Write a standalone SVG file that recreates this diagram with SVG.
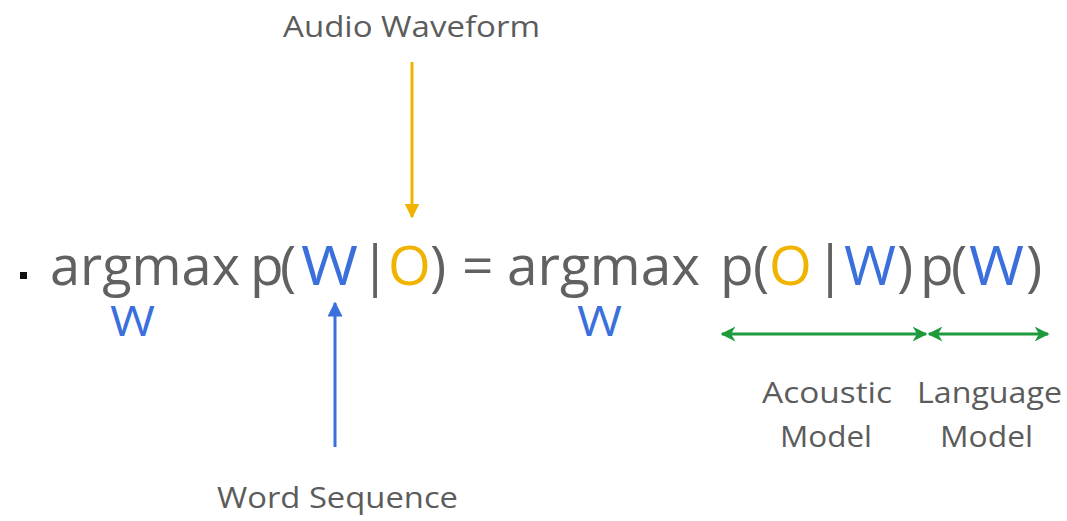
<svg xmlns="http://www.w3.org/2000/svg" width="1067" height="521" viewBox="0 0 1067 521">
<style>
text{font-family:"Open Sans","Noto Sans",sans-serif;}
.g{fill:#616161;}
.b{fill:#3a6fdc;}
.y{fill:#f0b400;}
.lbl{font-size:30px;fill:#5c5c5c;}
.eq{font-size:55px;}
.sub{font-size:42px;fill:#3a6fdc;}
</style>
<defs>
<marker id="ay" viewBox="0 0 10 10" refX="9" refY="5" markerWidth="5" markerHeight="5" orient="auto"><path d="M0,0 L10,5 L0,10 z" fill="#f0b400"/></marker>
<marker id="ab" viewBox="0 0 10 10" refX="9" refY="5" markerWidth="5" markerHeight="5" orient="auto"><path d="M0,0 L10,5 L0,10 z" fill="#3a6fdc"/></marker>
<marker id="ag" viewBox="0 0 10 10" refX="9" refY="5" markerWidth="5" markerHeight="5" orient="auto-start-reverse"><path d="M0,0 L10,5 L0,10 L3,5 z" fill="#1e9a3c"/></marker>
</defs>
<rect width="1067" height="521" fill="#fff"/>
<g id="formula">
<rect x="20" y="272" width="7" height="7" fill="#111"/>
<text class="eq g" x="50" y="285" textLength="190" lengthAdjust="spacingAndGlyphs">argmax</text>
<text class="eq g" x="250" y="285">p</text>
<text class="eq g" x="280" y="285">(</text>
<text class="eq b" x="301" y="285" textLength="57" lengthAdjust="spacingAndGlyphs">W</text>
<text class="eq g" x="360" y="285">|</text>
<text class="eq y" x="388" y="285">O</text>
<text class="eq g" x="430" y="285">)</text>
<text class="eq g" x="462" y="285">=</text>
<text class="eq g" x="507" y="285" textLength="193" lengthAdjust="spacingAndGlyphs">argmax</text>
<text class="eq g" x="720" y="285">p</text>
<text class="eq g" x="753" y="285">(</text>
<text class="eq y" x="769" y="285">O</text>
<text class="eq g" x="815" y="285">|</text>
<text class="eq b" x="844" y="285" textLength="52" lengthAdjust="spacingAndGlyphs">W</text>
<text class="eq g" x="897" y="285">)</text>
<text class="eq g" x="920" y="285">p</text>
<text class="eq g" x="951" y="285">(</text>
<text class="eq b" x="969" y="285" textLength="55" lengthAdjust="spacingAndGlyphs">W</text>
<text class="eq g" x="1026" y="285">)</text>
<text class="sub" x="110" y="336" textLength="45" lengthAdjust="spacingAndGlyphs">W</text>
<text class="sub" x="577" y="336" textLength="45" lengthAdjust="spacingAndGlyphs">W</text>
</g>
<g id="audio"><text class="lbl" x="283" y="37" textLength="257" lengthAdjust="spacingAndGlyphs">Audio Waveform</text></g>
<g id="word"><text class="lbl" x="217" y="508" textLength="241" lengthAdjust="spacingAndGlyphs">Word Sequence</text></g>
<g id="acoustic"><text class="lbl" x="762" y="403" textLength="130" lengthAdjust="spacingAndGlyphs">Acoustic</text><text class="lbl" x="780" y="447" textLength="92" lengthAdjust="spacingAndGlyphs">Model</text></g>
<g id="language"><text class="lbl" x="917" y="403" textLength="145" lengthAdjust="spacingAndGlyphs">Language</text><text class="lbl" x="940" y="447" textLength="93" lengthAdjust="spacingAndGlyphs">Model</text></g>
<g id="connectors" fill="none" stroke-width="3">
<line x1="412" y1="62" x2="412" y2="217" stroke="#f0b400" marker-end="url(#ay)"/>
<line x1="335" y1="447" x2="335" y2="303" stroke="#3a6fdc" marker-end="url(#ab)"/>
<line x1="722" y1="334" x2="926" y2="334" stroke="#1e9a3c" marker-start="url(#ag)" marker-end="url(#ag)"/>
<line x1="929" y1="334" x2="1048" y2="334" stroke="#1e9a3c" marker-start="url(#ag)" marker-end="url(#ag)"/>
</g>
</svg>
